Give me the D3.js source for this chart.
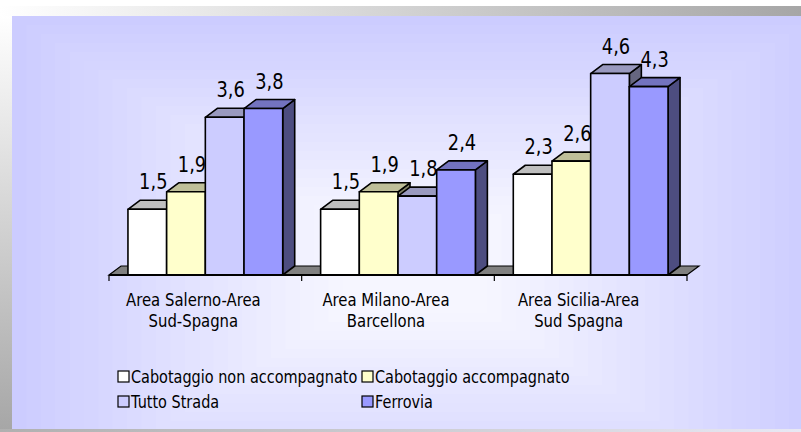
<!DOCTYPE html>
<html>
<head>
<meta charset="utf-8">
<script src="https://cdn.jsdelivr.net/npm/d3@7"></script>
<style>
  body { margin: 0; background: #fff; }
  svg { display: block; }
  text { font-family: "DejaVu Sans", sans-serif; fill: #000; }
</style>
</head>
<body>
<svg id="chart"></svg>
<script>
// data
var categories = [["Area Salerno-Area", "Sud-Spagna"], ["Area Milano-Area", "Barcellona"], ["Area Sicilia-Area", "Sud Spagna"]];
var seriesNames = ["Cabotaggio non accompagnato", "Cabotaggio accompagnato", "Tutto Strada", "Ferrovia"];
var cabNonAcc = [1.5, 1.5, 2.3];
var cabAcc = [1.9, 1.9, 2.6];
var tuttoStrada = [3.6, 1.8, 4.6];
var ferrovia = [3.8, 2.4, 4.3];
var seriesValues = [cabNonAcc, cabAcc, tuttoStrada, ferrovia];
var seriesColors = ["#FFFFFF", "#FFFFCC", "#CCCCFF", "#9999FF"];

var W = 801, H = 432;
var dx = 12, dy = 9;     // 3d depth offset
var squeeze = 0.85;      // narrow the font a bit (tahoma-ish)
var fmt = function(v) { return d3.format(".1f")(v).replace(".", ","); };

var svg = d3.select("#chart").attr("width", W).attr("height", H);
var defs = svg.append("defs");

function label(x, y, size) {
  return svg.append("text")
    .attr("transform", "translate(" + x + "," + y + ") scale(" + squeeze + ",1)")
    .style("font-size", size + "px");
}

// frame: shaded strips top and left
var gTop = defs.append("linearGradient").attr("id", "gTop");
gTop.append("stop").attr("offset", "0%").attr("stop-color", "#ffffff");
gTop.append("stop").attr("offset", "100%").attr("stop-color", "#a6a6a6");
var gLeft = defs.append("linearGradient").attr("id", "gLeft").attr("x1", 0).attr("y1", 0).attr("x2", 0).attr("y2", 1);
gLeft.append("stop").attr("offset", "0%").attr("stop-color", "#ffffff");
gLeft.append("stop").attr("offset", "100%").attr("stop-color", "#a6a6a6");
var gBot = defs.append("linearGradient").attr("id", "gBot");
gBot.append("stop").attr("offset", "0%").attr("stop-color", "#b0b0b0");
gBot.append("stop").attr("offset", "100%").attr("stop-color", "#e8e8f4");

svg.append("rect").attr("x", 0).attr("y", 6).attr("width", W).attr("height", 10).attr("fill", "url(#gTop)");
svg.append("rect").attr("x", 0).attr("y", 16).attr("width", 12).attr("height", H - 16).attr("fill", "url(#gLeft)");

// panel with rectangular "from center" gradient
var panel = {x: 12, y: 16, w: W - 12, h: 414};
var cx = 415, cy = 268;
var shade = d3.interpolateRgb("#ccccff", "#f6f6ff");
var steps = 28;
var hw = Math.max(cx - panel.x, panel.x + panel.w - cx), hh = Math.max(cy - panel.y, panel.y + panel.h - cy);
var pclip = defs.append("clipPath").attr("id", "pclip");
pclip.append("rect").attr("x", panel.x).attr("y", panel.y).attr("width", panel.w).attr("height", panel.h);
var bg = svg.append("g").attr("clip-path", "url(#pclip)");
d3.range(steps).forEach(function(i) {
  var f = 1 - i / steps;
  var t = Math.min(1, (i / steps) * 1.25);
  bg.append("rect")
    .attr("x", cx - hw * f).attr("y", cy - hh * f)
    .attr("width", 2 * hw * f).attr("height", 2 * hh * f)
    .attr("fill", shade(t));
});
svg.append("rect").attr("x", 0).attr("y", 429).attr("width", W).attr("height", 3).attr("fill", "url(#gBot)");

// scales
var x0 = d3.scaleBand().domain(d3.range(categories.length)).range([109, 687]);
var x1 = d3.scaleBand().domain(d3.range(seriesNames.length)).range([0, x0.bandwidth()]).paddingInner(0).paddingOuter(0.49);
var y = d3.scaleLinear().domain([0, 5]).range([275, 56]);
var base = y(0);

// floor
svg.append("path")
  .attr("d", "M" + x0.range()[0] + "," + base + "L" + (x0.range()[0] + dx) + "," + (base - dy) +
       "L" + (x0.range()[1] + dx) + "," + (base - dy) + "L" + x0.range()[1] + "," + base + "Z")
  .attr("fill", "#808080").attr("stroke", "#000").attr("stroke-width", 1.2);

// bars
var bars = svg.append("g");
categories.forEach(function(c, ci) {
  seriesValues.forEach(function(vals, si) {
    var v = vals[ci];
    var xl = x0(ci) + x1(si), w = x1.bandwidth(), yt = y(v);
    var col = d3.color(seriesColors[si]);
    var g = bars.append("g").attr("stroke", "#000").attr("stroke-width", 1.6).attr("stroke-linejoin", "round");
    g.append("path") // side
      .attr("d", "M" + (xl + w) + "," + base + "L" + (xl + w) + "," + yt + "L" + (xl + w + dx) + "," + (yt - dy) +
           "L" + (xl + w + dx) + "," + (base - dy) + "Z")
      .attr("fill", d3.rgb(col.r * 0.5, col.g * 0.5, col.b * 0.5));
    g.append("path") // top
      .attr("d", "M" + xl + "," + yt + "L" + (xl + dx) + "," + (yt - dy) + "L" + (xl + w + dx) + "," + (yt - dy) +
           "L" + (xl + w) + "," + yt + "Z")
      .attr("fill", d3.rgb(col.r * 0.75, col.g * 0.75, col.b * 0.75));
    g.append("rect") // front
      .attr("x", xl).attr("y", yt).attr("width", w).attr("height", base - yt)
      .attr("fill", col);
  });
});

// data labels
categories.forEach(function(c, ci) {
  seriesValues.forEach(function(vals, si) {
    var v = vals[ci];
    label(x0(ci) + x1(si) + x1.bandwidth() / 2 + dx / 2, y(v) - 20, 21)
      .attr("text-anchor", "middle")
      .text(fmt(v));
  });
});

// axis front edge + ticks
svg.append("line").attr("x1", x0.range()[0]).attr("x2", x0.range()[1]).attr("y1", base).attr("y2", base)
  .attr("stroke", "#000").attr("stroke-width", 2);
var tickX = categories.map(function(c, i) { return x0(i); }).concat([x0.range()[1]]);
svg.selectAll(".tick").data(tickX).enter().append("line")
  .attr("x1", function(d) { return d; }).attr("x2", function(d) { return d; })
  .attr("y1", base).attr("y2", base + 6)
  .attr("stroke", "#000").attr("stroke-width", 1.2);

// category labels
categories.forEach(function(c, ci) {
  var t = label(x0(ci) + x0.bandwidth() / 2 - 12, base + 31, 17.5).attr("text-anchor", "middle");
  c.forEach(function(line, li) {
    t.append("tspan").attr("x", 0).attr("dy", li ? 21 : 0).text(line);
  });
});

// legend
var legX = [118, 362], legY = [371, 396];
seriesNames.forEach(function(name, i) {
  var lx = legX[i % 2], ly = legY[Math.floor(i / 2)];
  svg.append("rect").attr("x", lx).attr("y", ly).attr("width", 11).attr("height", 11)
    .attr("fill", seriesColors[i]).attr("stroke", "#000").attr("stroke-width", 1.2);
  label(lx + 13, ly + 12, 17).text(name);
});
</script>
</body>
</html>
